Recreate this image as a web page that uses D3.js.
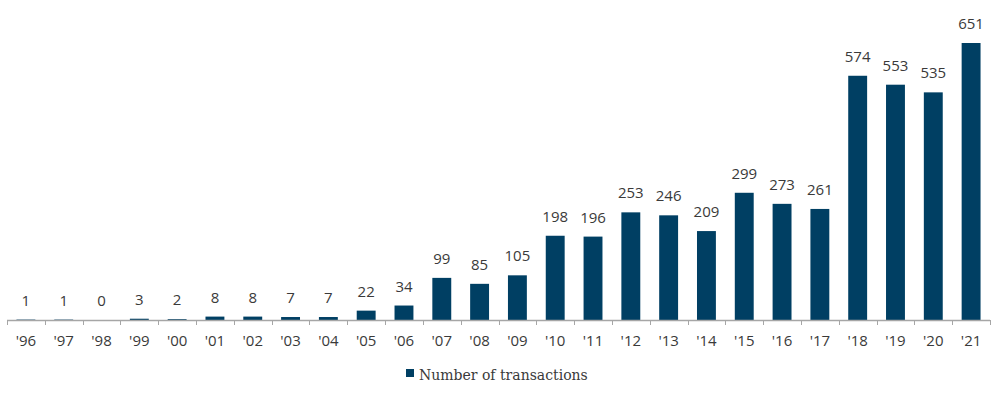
<!DOCTYPE html>
<html>
<head>
<meta charset="utf-8">
<script src="https://cdn.jsdelivr.net/npm/d3@7"></script>
<style>
  body { margin: 0; background: #fff; }
</style>
</head>
<body>
<svg width="1000" height="394"></svg>
<script>
'use strict';

const years = ["'96", "'97", "'98", "'99", "'00", "'01", "'02", "'03", "'04", "'05", "'06", "'07", "'08",
  "'09", "'10", "'11", "'12", "'13", "'14", "'15", "'16", "'17", "'18", "'19", "'20", "'21"];
const transactions = [1, 1, 0, 3, 2, 8, 8, 7, 7, 22, 34, 99, 85, 105, 198, 196, 253, 246, 209, 299, 273, 261, 574, 553, 535, 651];
const seriesName = "Number of transactions";

const svg = d3.select("svg");
const barColor = "#003f63";
const textColor = "#3a3a3a";

const x = d3.scaleBand()
  .domain(years)
  .range([7, 990])
  .paddingInner(0.5)
  .paddingOuter(0.25);

const y = d3.scaleLinear()
  .domain([0, 651])
  .range([320, 43]);

const data = years.map((d, i) => ({year: d, value: transactions[i]}));

// bars
svg.append("g")
  .selectAll("rect")
  .data(data)
  .join("rect")
    .attr("x", d => x(d.year))
    .attr("y", d => y(d.value))
    .attr("width", x.bandwidth())
    .attr("height", d => y(0) - y(d.value))
    .attr("fill", barColor);

// value labels
svg.append("g")
  .selectAll("text")
  .data(data)
  .join("text")
    .attr("x", d => x(d.year) + x.bandwidth() / 2)
    .attr("y", d => y(d.value) - 14)
    .attr("text-anchor", "middle")
    .attr("font-family", "'Open Sans', sans-serif")
    .attr("font-size", 15)
    .attr("fill", textColor)
    .text(d => d.value);

// x axis drawn over the bar bases, ticks on category boundaries
const axis = svg.append("g");
const step = x.step();
axis.append("line")
  .attr("x1", 7).attr("x2", 990)
  .attr("y1", 320.5).attr("y2", 320.5)
  .attr("stroke", "#a6a6a6")
  .attr("stroke-width", 1.6);
axis.selectAll("line.tick")
  .data(d3.range(years.length + 1))
  .join("line")
    .attr("class", "tick")
    .attr("x1", i => Math.round(7 + i * step) + 0.5)
    .attr("x2", i => Math.round(7 + i * step) + 0.5)
    .attr("y1", 320).attr("y2", 325)
    .attr("stroke", "#a6a6a6");
axis.selectAll("text")
  .data(years)
  .join("text")
    .attr("x", d => x(d) + x.bandwidth() / 2)
    .attr("y", 346)
    .attr("text-anchor", "middle")
    .attr("font-family", "'Open Sans', sans-serif")
    .attr("font-size", 15)
    .attr("fill", textColor)
    .text(d => d);

// legend
const legend = svg.append("g").attr("transform", "translate(406,380)");
legend.append("rect")
  .attr("x", 0).attr("y", -11)
  .attr("width", 8).attr("height", 8)
  .attr("fill", barColor);
legend.append("text")
  .attr("x", 13).attr("y", 0)
  .attr("font-family", "'DejaVu Serif', serif")
  .attr("font-size", 14)
  .attr("fill", textColor)
  .text(seriesName);
</script>
</body>
</html>
